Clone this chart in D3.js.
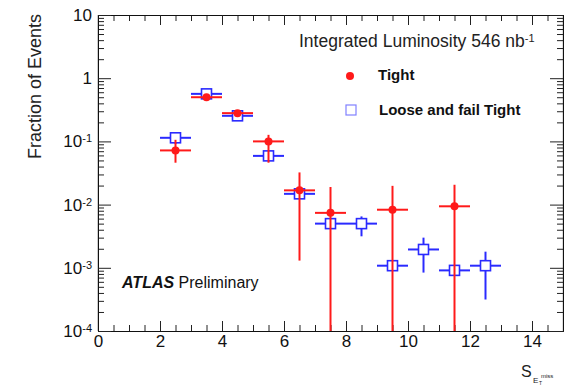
<!DOCTYPE html>
<html>
<head>
<meta charset="utf-8">
<script src="https://cdn.jsdelivr.net/npm/d3@7"></script>
<style>
  body { margin: 0; background: #fff; }
  text { font-family: "Liberation Sans", Arial, Helvetica, sans-serif; }
</style>
</head>
<body>
<svg id="chart" width="573" height="388"></svg>
<script>
// bin centres (width 1)
var binCentres = [2.5, 3.5, 4.5, 5.5, 6.5, 7.5, 8.5, 9.5, 10.5, 11.5, 12.5];

// Tight: value, low, high (null = no entry)
var tightVal  = [0.072, 0.50, 0.28, 0.10, 0.0168, 0.0074, null, 0.0083, null, 0.0094, null];
var tightLow  = [0.046, 0.46, 0.26, 0.046, 0.0013, 0, null, 0, null, 0, null];
var tightHigh = [0.106, 0.55, 0.31, 0.127, 0.0323, 0.019, null, 0.0198, null, 0.0206, null];

// Loose and fail Tight
var looseVal  = [0.114, 0.565, 0.254, 0.059, 0.0148, 0.0050, 0.0050, 0.00108, 0.00195, 0.00091, 0.00108];
var looseLow  = [0.091, 0.53, 0.235, 0.055, 0.013, 0.0045, 0.00315, 0.00100, 0.00084, 0.00084, 0.000315];
var looseHigh = [0.137, 0.60, 0.27, 0.063, 0.017, 0.0055, 0.0065, 0.00117, 0.0030, 0.00098, 0.0018];

var xMajor = [0, 2, 4, 6, 8, 10, 12, 14];
var yMajor = [1e-4, 1e-3, 1e-2, 1e-1, 1, 10];

var dimensions = { width: 573, height: 388, left: 98, right: 563, top: 15, bottom: 331 };
var red = "#ff1a1a", blue = "#2a2aff";

var svg = d3.select("#chart");

var xScale = d3.scaleLinear().domain([0, 15]).range([dimensions.left, dimensions.right]);
var yScale = d3.scaleLog().domain([1e-4, 10]).range([dimensions.bottom, dimensions.top]);

var xMinor = d3.range(0, 15.01, 0.5).filter(d => xMajor.indexOf(d) < 0);
var yMinor = [];
[-4, -3, -2, -1, 0].forEach(function(k) {
    for (var m = 2; m <= 9; m++) yMinor.push(m * Math.pow(10, k));
});

// frame lines
svg.append("line").attr("x1", dimensions.left).attr("x2", dimensions.left)
    .attr("y1", dimensions.top).attr("y2", dimensions.bottom).attr("stroke", "#999");
svg.append("line").attr("x1", dimensions.right).attr("x2", dimensions.right)
    .attr("y1", dimensions.top).attr("y2", dimensions.bottom).attr("stroke", "#bbb");

// bottom axis
svg.append("g")
    .attr("transform", `translate(0,${dimensions.bottom})`)
    .call(d3.axisBottom(xScale).tickValues(xMinor).tickSizeInner(-6).tickSizeOuter(0).tickFormat(""));
var xAx = svg.append("g")
    .attr("transform", `translate(0,${dimensions.bottom})`)
    .call(d3.axisBottom(xScale).tickValues(xMajor).tickSizeInner(-10).tickSizeOuter(0).tickPadding(4).tickFormat(d3.format("d")));
xAx.selectAll("text").style("font-size", "17px").attr("fill", "#111");

// top axis
svg.append("g")
    .attr("transform", `translate(0,${dimensions.top})`)
    .call(d3.axisTop(xScale).tickValues(xMinor).tickSizeInner(-6).tickSizeOuter(0).tickFormat(""));
svg.append("g")
    .attr("transform", `translate(0,${dimensions.top})`)
    .call(d3.axisTop(xScale).tickValues(xMajor).tickSizeInner(-10).tickSizeOuter(0).tickFormat(""));

// left axis
svg.append("g")
    .attr("transform", `translate(${dimensions.left},0)`)
    .call(d3.axisLeft(yScale).tickValues(yMinor).tickSizeInner(-6).tickSizeOuter(0).tickFormat(""));
var yAx = svg.append("g")
    .attr("transform", `translate(${dimensions.left},0)`)
    .call(d3.axisLeft(yScale).tickValues(yMajor).tickSizeInner(-13).tickSizeOuter(0).tickPadding(6).tickFormat(""));

yAx.selectAll(".tick text").each(function(d) {
    var t = d3.select(this).style("font-size", "17px").attr("fill", "#111");
    var e = Math.round(Math.log10(d));
    if (e === 0) t.text("1");
    else if (e === 1) t.text("10");
    else {
        t.append("tspan").text("10");
        t.append("tspan").attr("dy", "-0.45em").style("font-size", "11px").text(e);
    }
});

// right axis
svg.append("g")
    .attr("transform", `translate(${dimensions.right},0)`)
    .call(d3.axisRight(yScale).tickValues(yMinor).tickSizeInner(-6).tickSizeOuter(0).tickFormat(""));
svg.append("g")
    .attr("transform", `translate(${dimensions.right},0)`)
    .call(d3.axisRight(yScale).tickValues(yMajor).tickSizeInner(-13).tickSizeOuter(0).tickFormat(""));

svg.selectAll(".domain").attr("stroke", "#111");
svg.selectAll(".tick line").attr("stroke", "#222");

// clip for data
svg.append("clipPath").attr("id", "plotclip")
    .append("rect")
    .attr("x", dimensions.left).attr("y", dimensions.top)
    .attr("width", dimensions.right - dimensions.left)
    .attr("height", dimensions.bottom - dimensions.top);

function yClamp(v) {
    return v <= 1e-4 ? dimensions.bottom : yScale(v);
}

var plot = svg.append("g").attr("clip-path", "url(#plotclip)");

// loose series
var looseData = binCentres.map((c, i) => ({ x: c, v: looseVal[i], lo: looseLow[i], hi: looseHigh[i] }));
var lg = plot.append("g").attr("stroke", blue).attr("stroke-width", 2);
lg.selectAll(".hbar").data(looseData).enter().append("line")
    .attr("x1", d => xScale(d.x - 0.5)).attr("x2", d => xScale(d.x + 0.5))
    .attr("y1", d => yScale(d.v)).attr("y2", d => yScale(d.v));
lg.selectAll(".vbar").data(looseData).enter().append("line")
    .attr("x1", d => xScale(d.x)).attr("x2", d => xScale(d.x))
    .attr("y1", d => yClamp(d.lo)).attr("y2", d => yClamp(d.hi));
lg.selectAll("rect").data(looseData).enter().append("rect")
    .attr("x", d => xScale(d.x) - 5).attr("y", d => yScale(d.v) - 5)
    .attr("width", 10).attr("height", 10)
    .attr("fill", "#fff").attr("stroke-width", 1.6);

// tight series
var tightData = binCentres.map((c, i) => ({ x: c, v: tightVal[i], lo: tightLow[i], hi: tightHigh[i] }))
    .filter(d => d.v != null);
var tg = plot.append("g").attr("stroke", red).attr("stroke-width", 2);
tg.selectAll(".hbar").data(tightData).enter().append("line")
    .attr("x1", d => xScale(d.x - 0.5)).attr("x2", d => xScale(d.x + 0.5))
    .attr("y1", d => yScale(d.v)).attr("y2", d => yScale(d.v));
tg.selectAll(".vbar").data(tightData).enter().append("line")
    .attr("x1", d => xScale(d.x)).attr("x2", d => xScale(d.x))
    .attr("y1", d => yClamp(d.lo)).attr("y2", d => yClamp(d.hi));
tg.selectAll("circle").data(tightData).enter().append("circle")
    .attr("cx", d => xScale(d.x)).attr("cy", d => yScale(d.v))
    .attr("r", 4).attr("fill", red).attr("stroke", "none");

// axis titles
svg.append("text")
    .attr("transform", "translate(41,14)rotate(-90)")
    .style("text-anchor", "end")
    .style("font-size", "18px")
    .attr("fill", "#222")
    .text("Fraction of Events");

var xt = svg.append("g").attr("fill", "#222");
xt.append("text").attr("x", 521).attr("y", 377).style("font-size", "16px").text("S");
xt.append("text").attr("x", 533).attr("y", 383).style("font-size", "8px").text("E");
xt.append("text").attr("x", 539).attr("y", 385).style("font-size", "5px").text("T");
xt.append("text").attr("x", 541).attr("y", 378).style("font-size", "6px").text("miss");

// labels
var lum = svg.append("text").attr("x", 299).attr("y", 47).style("font-size", "17.5px").attr("fill", "#222");
lum.append("tspan").text("Integrated Luminosity 546 nb");
lum.append("tspan").attr("dy", "-0.45em").style("font-size", "11px").text("-1");

svg.append("circle").attr("cx", 350).attr("cy", 76).attr("r", 4).attr("fill", red);
svg.append("text").attr("x", 378).attr("y", 80).style("font-size", "15px").style("font-weight", "bold")
    .attr("fill", "#111").text("Tight");
svg.append("rect").attr("x", 346).attr("y", 105).attr("width", 10).attr("height", 10)
    .attr("fill", "#fff").attr("stroke", "#8080ff").attr("stroke-width", 1.2);
svg.append("text").attr("x", 379).attr("y", 115).style("font-size", "15px").style("font-weight", "bold")
    .attr("fill", "#111").text("Loose and fail Tight");

var atl = svg.append("text").attr("x", 122).attr("y", 288).style("font-size", "16px").attr("fill", "#111");
atl.append("tspan").style("font-weight", "bold").style("font-style", "italic").text("ATLAS");
atl.append("tspan").text(" Preliminary");
</script>
</body>
</html>
